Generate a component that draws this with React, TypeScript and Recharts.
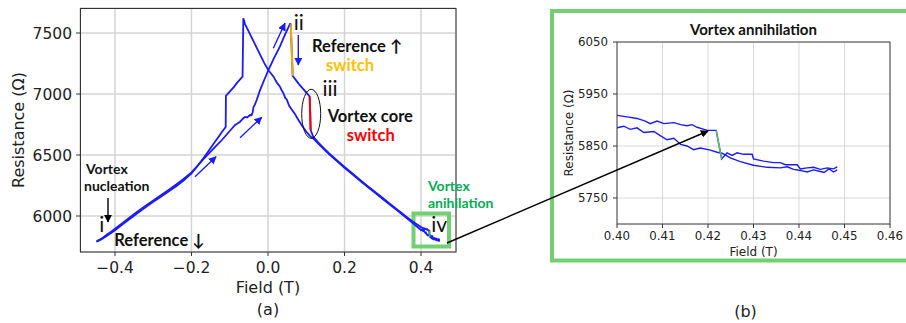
import React from 'react';
import { LineChart, Line, XAxis, YAxis, CartesianGrid, ReferenceArea } from 'recharts';

// sweep with increasing field, -0.45 T -> 0.40 T
const upField = [
  -0.448, -0.44, -0.43, -0.42, -0.41, -0.4, -0.38, -0.36, -0.34, -0.32, -0.3, -0.28, -0.26, -0.24, -0.22,
  -0.2, -0.185, -0.17, -0.155, -0.14, -0.12, -0.1, -0.086, -0.073, -0.068, -0.0645, -0.06, -0.055, -0.0515,
  -0.047, -0.043, -0.04, -0.038, -0.034, -0.0296, -0.021, -0.01, 0.001, 0.015, 0.031, 0.045, 0.0575, 0.0595,
  0.0645, 0.072, 0.08, 0.09, 0.101, 0.109, 0.1115, 0.118, 0.13, 0.14, 0.16, 0.18, 0.2, 0.22, 0.24, 0.26,
  0.28, 0.3, 0.32, 0.34, 0.36, 0.38, 0.39,
];
const upRes = [
  5795, 5806, 5826, 5850, 5872, 5895, 5944, 5992, 6040, 6085, 6128, 6170, 6214, 6258, 6305,
  6358, 6408, 6462, 6512, 6560, 6625, 6697, 6746, 6773, 6790, 6801, 6812, 6808, 6816,
  6828, 6826, 6850, 6892, 6915, 6951, 7030, 7115, 7195, 7290, 7388, 7490, 7575, 7572,
  7150, 7118, 7085, 7048, 7010, 6978, 6705, 6652, 6608, 6574, 6514, 6458, 6403, 6350, 6298, 6247,
  6197, 6147, 6097, 6047, 5998, 5952, 5930,
];

// increasing field, detail 0.40 -> 0.448 T
const upTailField = [
  0.4, 0.4022, 0.4044, 0.4062, 0.4073, 0.4088, 0.4103, 0.4114, 0.4125, 0.414, 0.4154, 0.4165, 0.4176,
  0.4188, 0.4198, 0.4218, 0.423, 0.4242, 0.4253, 0.4264, 0.4278, 0.4297, 0.43, 0.4322, 0.4344, 0.4359,
  0.437, 0.4396, 0.4403, 0.4418, 0.4432, 0.4447, 0.4462, 0.4476, 0.4484,
];
const upTailRes = [
  5909, 5906, 5903, 5898, 5893, 5898, 5893, 5894, 5895, 5891, 5889, 5891, 5886,
  5883, 5880, 5880, 5825, 5837, 5832, 5837, 5834, 5834, 5825, 5821, 5818, 5818,
  5814, 5814, 5806, 5808, 5809, 5805, 5808, 5806, 5810,
];

// decreasing field, detail 0.448 -> 0.40 T
const downHeadField = [
  0.4484, 0.4476, 0.4466, 0.4455, 0.4447, 0.4432, 0.4418, 0.4403, 0.4388, 0.4374, 0.4359, 0.433, 0.43,
  0.4271, 0.4249, 0.4238, 0.4231, 0.422, 0.4205, 0.4183, 0.4168, 0.4154, 0.414, 0.4125, 0.411, 0.4095,
  0.4081, 0.4059, 0.4044, 0.4029, 0.4015, 0.4,
];
const downHeadRes = [
  5804, 5800, 5806, 5799, 5801, 5804, 5800, 5803, 5805, 5810, 5808, 5809, 5813,
  5820, 5827, 5833, 5836, 5838, 5842, 5846, 5843, 5850, 5853, 5865, 5862, 5870,
  5878, 5876, 5885, 5882, 5888, 5885,
];

// decreasing field, 0.39 T -> -0.45 T
const downField = [
  0.39, 0.38, 0.36, 0.34, 0.32, 0.3, 0.28, 0.26, 0.24, 0.22, 0.2, 0.18, 0.16, 0.14, 0.12, 0.11, 0.1,
  0.09, 0.08, 0.07, 0.06, 0.055, 0.049, 0.045, 0.04, 0.035, 0.031, 0.025, 0.02, 0.015, 0.01, 0.001,
  -0.01, -0.02, -0.03, -0.04, -0.05, -0.06, -0.0645, -0.0665, -0.08, -0.09, -0.1, -0.11, -0.1106,
  -0.12, -0.13, -0.14, -0.155, -0.17, -0.185, -0.2, -0.22, -0.24, -0.26, -0.28, -0.3, -0.32, -0.34,
  -0.36, -0.38, -0.4, -0.42, -0.435, -0.445, -0.449,
];
const downRes = [
  5912, 5938, 5990, 6040, 6089, 6140, 6190, 6240, 6291, 6343, 6396, 6450, 6506, 6566, 6630, 6655, 6693,
  6735, 6785, 6838, 6882, 6905, 6955, 6968, 7008, 7035, 7062, 7085, 7110, 7140, 7160, 7195,
  7255, 7318, 7382, 7446, 7510, 7573, 7620, 7142, 7095, 7055, 7020, 6984, 6730,
  6690, 6645, 6602, 6535, 6470, 6408, 6350, 6292, 6244, 6200, 6158, 6116, 6072, 6026,
  5980, 5932, 5884, 5840, 5810, 5793, 5790,
];

// switching events
const refSwitchField = [0.0595, 0.0645];
const refSwitchRes = [7572, 7150];
const coreSwitchField = [0.109, 0.1115];
const coreSwitchRes = [6978, 6705];
const annihField = [0.4218, 0.423];
const annihRes = [5880, 5825];

const xTicksA = [-0.4, -0.2, 0, 0.2, 0.4];
const yTicksA = [6000, 6500, 7000, 7500];
const xTicksB = [0.4, 0.41, 0.42, 0.43, 0.44, 0.45, 0.46];
const yTicksB = [5750, 5850, 5950, 6050];

const pts = (f: number[], r: number[]) => f.map((x, i) => ({ f: x, r: r[i] }));

const upCurve = pts([...upField, ...upTailField], [...upRes, ...upTailRes]);
const downCurve = pts([...downHeadField, ...downField], [...downHeadRes, ...downRes]);
const upTail = pts(upTailField, upTailRes);
const downHead = pts(downHeadField, downHeadRes);
const refSwitch = pts(refSwitchField, refSwitchRes);
const coreSwitch = pts(coreSwitchField, coreSwitchRes);
const annih = pts(annihField, annihRes);

const BLUE = '#1a1aff';
const GREEN_BOX = '#72d072';
const MONO = 'DejaVu Sans';
const ANNOT = 'Lato';

const fmtA = (v: number) => (v < 0 ? '\u2212' : '') + Math.abs(v).toFixed(1);

const Arrow = ({ x1, y1, x2, y2, color }: { x1: number; y1: number; x2: number; y2: number; color: string }) => (
  <line x1={x1} y1={y1} x2={x2} y2={y2} stroke={color} strokeWidth={1.4}
    markerEnd={`url(#head-${color === 'black' ? 'k' : 'b'})`} />
);

export default function App() {
  return (
    <div style={{ position: 'absolute', left: 0, top: 0, width: 906, height: 323, background: '#fff', fontFamily: MONO }}>
      {/* (a) full loop */}
      <div style={{ position: 'absolute', left: 0, top: 0 }}>
        <LineChart width={460} height={300} margin={{ top: 8, right: 4, left: 0, bottom: 0 }}>
          <CartesianGrid stroke="#d4d4d4" strokeWidth={1.5} />
          <XAxis type="number" dataKey="f" domain={[-0.4915, 0.4915]} ticks={xTicksA} tickFormatter={fmtA}
            allowDataOverflow height={48} axisLine={false} tickSize={4} tickMargin={6}
            tickLine={{ stroke: '#333' }} tick={{ fontSize: 15.5, fill: '#222', fontFamily: MONO }} />
          <YAxis type="number" domain={[5705, 7705]} ticks={yTicksA} allowDataOverflow width={80}
            axisLine={false} tickSize={4} tickMargin={4} tickLine={{ stroke: '#333' }}
            tick={{ fontSize: 15.5, fill: '#222', fontFamily: MONO }} />
          <Line data={downCurve} dataKey="r" type="linear" stroke={BLUE} strokeWidth={1.8} dot={false} isAnimationActive={false} />
          <Line data={upCurve} dataKey="r" type="linear" stroke={BLUE} strokeWidth={1.8} dot={false} isAnimationActive={false} />
          <Line data={refSwitch} dataKey="r" type="linear" stroke="#f5a800" strokeWidth={2} dot={false} isAnimationActive={false} />
          <Line data={coreSwitch} dataKey="r" type="linear" stroke="#ff0000" strokeWidth={2} dot={false} isAnimationActive={false} />
          <Line data={annih} dataKey="r" type="linear" stroke="#3cb44b" strokeWidth={1.6} dot={false} isAnimationActive={false} />
          <ReferenceArea x1={0.3804} x2={0.4732} y1={5750} y2={6020} fill="none" stroke={GREEN_BOX}
            strokeWidth={4} ifOverflow="visible" />
        </LineChart>
      </div>

      {/* (b) zoom on annihilation */}
      <div style={{ position: 'absolute', left: 540, top: 0 }}>
        <LineChart width={366} height={264} margin={{ top: 42, right: 16, left: 0, bottom: 0 }}>
          <CartesianGrid stroke="#d8d8d8" strokeWidth={1} />
          <XAxis type="number" dataKey="f" domain={[0.4, 0.46]} ticks={xTicksB} tickFormatter={(v: number) => v.toFixed(2)}
            allowDataOverflow height={40} axisLine={false} tickSize={4} tickMargin={4}
            tickLine={{ stroke: '#333' }} tick={{ fontSize: 11.8, fill: '#222', fontFamily: MONO }} />
          <YAxis type="number" domain={[5700, 6050]} ticks={yTicksB} allowDataOverflow width={77}
            axisLine={false} tickSize={4} tickMargin={5} tickLine={{ stroke: '#333' }}
            tick={{ fontSize: 11.8, fill: '#222', fontFamily: MONO }} />
          <Line data={upTail} dataKey="r" type="linear" stroke={BLUE} strokeWidth={1.4} dot={false} isAnimationActive={false} />
          <Line data={downHead} dataKey="r" type="linear" stroke={BLUE} strokeWidth={1.4} dot={false} isAnimationActive={false} />
          <Line data={annih} dataKey="r" type="linear" stroke="#5cc25c" strokeWidth={1.6} dot={false} isAnimationActive={false} />
        </LineChart>
      </div>

      {/* frames, labels and annotations */}
      <svg width={906} height={323} style={{ position: 'absolute', left: 0, top: 0, pointerEvents: 'none', overflow: 'visible' }}>
        <defs>
          <marker id="head-b" viewBox="0 0 10 10" refX="9" refY="5" markerWidth="8" markerHeight="8"
            markerUnits="userSpaceOnUse" orient="auto">
            <path d="M0,0 L10,5 L0,10 z" fill={BLUE} />
          </marker>
          <marker id="head-k" viewBox="0 0 10 10" refX="9" refY="5" markerWidth="8" markerHeight="8"
            markerUnits="userSpaceOnUse" orient="auto">
            <path d="M0,0 L10,5 L0,10 z" fill="black" />
          </marker>
        </defs>

        <rect x={80.5} y={8.5} width={375.5} height={243.5} fill="none" stroke="#333" strokeWidth={1} />
        <rect x={617} y={42} width={273} height={182} fill="none" stroke="#444" strokeWidth={1} />
        <rect x={552} y={11} width={360} height={249.5} fill="none" stroke={GREEN_BOX} strokeWidth={4} />

        {/* axis titles */}
        <text x={18.5} y={130} transform="rotate(-90 18.5 130)" textAnchor="middle" dominantBaseline="central"
          fontSize={16} fill="#222">Resistance (Ω)</text>
        <text x={268} y={287} textAnchor="middle" dominantBaseline="central" fontSize={16} fill="#222">Field (T)</text>
        <text x={268} y={309} textAnchor="middle" dominantBaseline="central" fontSize={16} fill="#222">(a)</text>
        <text x={569} y={133} transform="rotate(-90 569 133)" textAnchor="middle" dominantBaseline="central"
          fontSize={12} fill="#222">Resistance (Ω)</text>
        <text x={753.5} y={251.5} textAnchor="middle" dominantBaseline="central" fontSize={12} fill="#222">Field (T)</text>
        <text x={745.5} y={311} textAnchor="middle" dominantBaseline="central" fontSize={16} fill="#222">(b)</text>
        <text x={753.5} y={35} textAnchor="middle" fontFamily={ANNOT} fontWeight={700} fontSize={15} fill="#111">Vortex annihilation</text>

        {/* roman numerals */}
        <text x={298.7} y={30} textAnchor="middle" fontFamily={ANNOT} fontSize={21} fill="#111">ii</text>
        <text x={330} y={96} textAnchor="middle" fontFamily={ANNOT} fontSize={21} fill="#111">iii</text>
        <text x={101.7} y={231.7} textAnchor="middle" fontFamily={ANNOT} fontSize={21} fill="#111">i</text>
        <text x={439.2} y={231.7} textAnchor="middle" fontFamily={ANNOT} fontSize={21} fill="#111">iv</text>

        {/* annotations */}
        <text x={312} y={51.5} fontFamily={ANNOT} fontWeight={700} fontSize={16.5} fill="#111">Reference ↑</text>
        <text x={326} y={71} fontFamily={ANNOT} fontWeight={700} fontSize={16.5} fill="#ffc000">switch</text>
        <text x={327.7} y={121.5} fontFamily={ANNOT} fontWeight={700} fontSize={16.5} fill="#111">Vortex core</text>
        <text x={346.7} y={141} fontFamily={ANNOT} fontWeight={700} fontSize={16.5} fill="#ff0000">switch</text>
        <text x={86} y={174} fontFamily={ANNOT} fontWeight={700} fontSize={14} fill="#111">Vortex</text>
        <text x={84} y={191} fontFamily={ANNOT} fontWeight={700} fontSize={14} fill="#111">nucleation</text>
        <text x={114.3} y={245.7} fontFamily={ANNOT} fontWeight={700} fontSize={16.5} fill="#111">Reference ↓</text>
        <text x={428} y={191} fontFamily={ANNOT} fontWeight={700} fontSize={14} fill="#00b050">Vortex</text>
        <text x={428} y={208} fontFamily={ANNOT} fontWeight={700} fontSize={14} fill="#00b050">anihilation</text>

        <ellipse cx={311.2} cy={113.8} rx={9.5} ry={24.5} fill="none" stroke="#111" strokeWidth={1} />

        <Arrow x1={273.3} y1={48.3} x2={285} y2={23.3} color={BLUE} />
        <Arrow x1={298.3} y1={35} x2={298.3} y2={65} color={BLUE} />
        <Arrow x1={240} y1={137.7} x2={261.7} y2={117.3} color={BLUE} />
        <Arrow x1={195} y1={176.7} x2={216} y2={156.7} color={BLUE} />
        <Arrow x1={108} y1={198} x2={108} y2={222} color="black" />
        <Arrow x1={447} y1={243} x2={708} y2={131} color="black" />
      </svg>
    </div>
  );
}
